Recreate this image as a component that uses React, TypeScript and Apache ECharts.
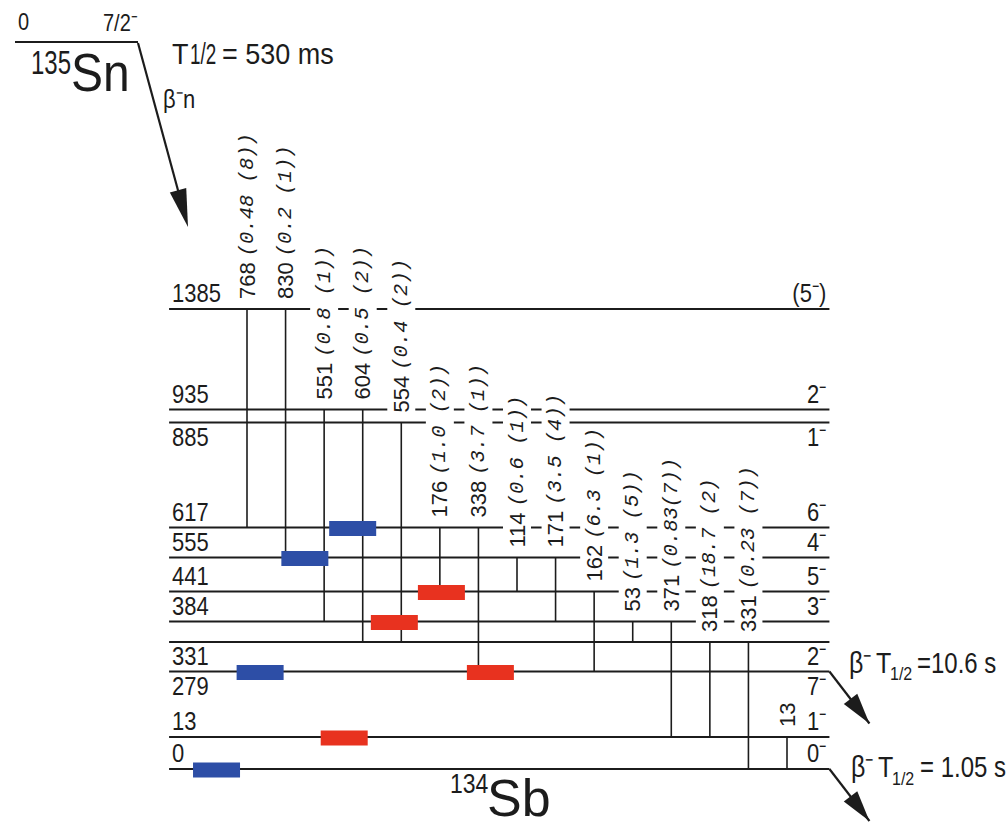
import React, { useEffect, useRef } from "react";
import * as echarts from "echarts";

// ---------------- data ----------------
// levels of 134Sb (keV), spins, and schematic drawing height (scheme is not to scale)
const levelEnergies = [1385, 935, 885, 617, 555, 441, 384, 331, 279, 13, 0];
const levelSpins = ["(5⁻)", "2⁻", "1⁻", "6⁻", "4⁻", "5⁻", "3⁻", "2⁻", "7⁻", "1⁻", "0⁻"];
const levelHeights = [460, 359.5, 346.5, 241.5, 211.5, 177.5, 147.5, 127, 97.5, 32, 0];
const levelLabelBelow = [false, false, true, false, false, false, false, true, true, false, false];
const levelBetaDecay = [false, false, false, false, false, false, false, false, true, false, true];

// gamma transitions: energy, intensity, initial and final level, column in the scheme
const gammaEnergies = [768, 830, 551, 604, 554, 176, 338, 114, 171, 162, 53, 371, 318, 331, 13];
const gammaIntensities = [
  "(0.48 (8))", "(0.2 (1))", "(0.8 (1))", "(0.5 (2))", "(0.4 (2))",
  "(1.0 (2))", "(3.7 (1))", "(0.6 (1))", "(3.5 (4))", "(6.3 (1))",
  "(1.3 (5))", "(0.83(7))", "(18.7 (2)", "(0.23 (7))", "",
];
const gammaFromLevels = [1385, 1385, 935, 935, 885, 617, 617, 555, 555, 441, 384, 384, 331, 331, 13];
const gammaToLevels = [617, 555, 384, 331, 331, 441, 279, 441, 384, 279, 331, 13, 13, 0, 0];
const gammaColumns = [0, 1, 2, 3, 4, 5, 6, 7, 8, 9, 10, 11, 12, 13, 14];

// coloured level markers (level, horizontal position in column units)
const blueMarkLevels = [617, 555, 279, 0];
const blueMarkColumns = [2.74, 1.5, 0.34, -0.79];
const redMarkLevels = [441, 384, 279, 13];
const redMarkColumns = [5.04, 3.82, 6.31, 2.52];

// ---------------- styles ----------------
const INK = "#1c1c1c";
const BLUE = "#2d4ea6";
const RED = "#e8321f";
const SANS = '"Liberation Sans", Arial, Helvetica, sans-serif';
const MONO = '"Liberation Mono", "DejaVu Sans Mono", monospace';
const LEVEL_LEFT = -2.02;
const LEVEL_RIGHT = 15.1;

const heightOf = (e: number) => levelHeights[levelEnergies.indexOf(e)];

function arrowHead(x1: number, y1: number, x2: number, y2: number, len: number, half: number) {
  const dx = x2 - x1, dy = y2 - y1;
  const L = Math.hypot(dx, dy);
  const ux = dx / L, uy = dy / L;
  const bx = x2 - ux * len, by = y2 - uy * len;
  return [[x2, y2], [bx - uy * half, by + ux * half], [bx + uy * half, by - ux * half]];
}

function txt(text: string, x: number, y: number, fs: number, align: string, vAlign: string, sy = 1, sx = 1, extra: any = {}) {
  return {
    type: "text",
    x, y, scaleX: sx, scaleY: sy,
    style: {
      text, x: 0, y: 0, fill: INK,
      font: `${fs}px ${SANS}`,
      align, verticalAlign: vAlign, textAlign: align, textVerticalAlign: vAlign,
      ...extra,
    },
  };
}
// text placed by its baseline (left aligned)
function btxt(text: string, x: number, baseline: number, fs: number, sy = 1, sx = 1) {
  return { ...txt(text, x, baseline + 0.153 * fs * sy, fs, "left", "bottom", sy, sx), z: 10 };
}

function buildOption() {
  const levelSeries = {
    type: "custom",
    coordinateSystem: "cartesian2d",
    silent: true,
    z: 2,
    data: levelHeights.map((h) => [LEVEL_LEFT, h]),
    renderItem: (params: any, api: any) => {
      const i = params.dataIndex;
      const h = api.value(1);
      const p0 = api.coord([LEVEL_LEFT, h]);
      const p1 = api.coord([LEVEL_RIGHT, h]);
      const children: any[] = [
        { type: "line", shape: { x1: p0[0], y1: p0[1], x2: p1[0], y2: p1[1] }, style: { stroke: INK, lineWidth: 2 } },
      ];
      const below = levelLabelBelow[i];
      const ty = below ? p0[1] + 1 : p0[1] - 3;
      const va = below ? "top" : "bottom";
      children.push(txt(String(levelEnergies[i]), p0[0] + 3, ty, 22, "left", va, 1.2));
      children.push(txt(levelSpins[i], p1[0] - 3, ty, 22, "right", va, 1.2));
      if (levelBetaDecay[i]) {
        const tx = p1[0] + 40, tyy = p1[1] + 52;
        children.push({ type: "line", shape: { x1: p1[0], y1: p1[1], x2: tx, y2: tyy }, style: { stroke: INK, lineWidth: 2.2 } });
        children.push({ type: "polygon", shape: { points: arrowHead(p1[0], p1[1], tx, tyy, 31, 8.5) }, style: { fill: INK } });
      }
      return { type: "group", children };
    },
  };

  const gammaLabelSeries = {
    type: "custom",
    coordinateSystem: "cartesian2d",
    silent: true,
    z: 3,
    data: gammaColumns.map((c, i) => [c, heightOf(gammaFromLevels[i])]),
    renderItem: (params: any, api: any) => {
      const i = params.dataIndex;
      const p = api.coord([api.value(0), api.value(1)]);
      const inten = gammaIntensities[i];
      const text = inten ? `{n|${gammaEnergies[i]}} {i|${inten}}` : `{n|${gammaEnergies[i]}}`;
      return {
        type: "text",
        x: p[0], y: p[1] - 8, rotation: Math.PI / 2,
        style: {
          text, x: 0, y: 0, fill: INK,
          font: `22px ${SANS}`,
          align: "left", verticalAlign: "middle", textAlign: "left", textVerticalAlign: "middle",
          backgroundColor: "#ffffff",
          padding: [3, 2, 3, 2],
          rich: {
            n: { fontSize: 22, fontFamily: SANS, fill: INK },
            i: { fontSize: 20.5, fontFamily: MONO, fontStyle: "italic", fill: INK },
          },
        },
      };
    },
  };

  const gammaLineSeries = {
    type: "custom",
    coordinateSystem: "cartesian2d",
    silent: true,
    z: 4,
    data: gammaColumns.map((c, i) => [c, heightOf(gammaFromLevels[i]), heightOf(gammaToLevels[i])]),
    renderItem: (params: any, api: any) => {
      const a = api.coord([api.value(0), api.value(1)]);
      const b = api.coord([api.value(0), api.value(2)]);
      return { type: "line", shape: { x1: a[0], y1: a[1], x2: b[0], y2: b[1] }, style: { stroke: INK, lineWidth: 1.6 } };
    },
  };

  const markSeries = (levels: number[], cols: number[], color: string) => ({
    type: "custom",
    coordinateSystem: "cartesian2d",
    silent: true,
    z: 5,
    data: cols.map((c, i) => [c, heightOf(levels[i])]),
    renderItem: (params: any, api: any) => {
      const p = api.coord([api.value(0), api.value(1)]);
      return { type: "rect", shape: { x: p[0] - 23.5, y: p[1] + 1 - 7.5, width: 47, height: 15 }, style: { fill: color } };
    },
  });

  const snArrow = arrowHead(138, 43, 188, 227, 38, 8.5);

  const graphic: any[] = [
    btxt("0", 18, 30, 20, 1.2),
    btxt("7/2⁻", 103, 31, 20, 1.2),
    { type: "line", z: 10, shape: { x1: 15, y1: 42, x2: 138, y2: 42 }, style: { stroke: INK, lineWidth: 2 } },
    btxt("135", 31, 74, 24, 1.4),
    btxt("Sn", 71, 91, 48, 1.1),
    btxt("T", 172, 64, 27, 1.1),
    btxt("1/2", 190, 64, 27, 1.1, 0.7),
    btxt("= 530 ms", 222, 64, 27, 1.1),
    btxt("β⁻n", 163, 108, 22, 1.15),
    { type: "line", z: 10, shape: { x1: 138, y1: 43, x2: 182, y2: 205 }, style: { stroke: INK, lineWidth: 2.2 } },
    { type: "polygon", z: 10, shape: { points: snArrow }, style: { fill: INK } },
    btxt("β⁻", 849, 673, 25, 1.15),
    btxt("T", 876, 673, 25, 1.15),
    btxt("1/2", 890, 680, 16, 1.1),
    btxt("=10.6 s", 917, 673, 24, 1.2),
    btxt("β⁻", 851, 777, 25, 1.15),
    btxt("T", 878, 777, 25, 1.15),
    btxt("1/2", 892, 785, 16, 1.1),
    btxt("= 1.05 s", 920, 777, 24, 1.2),
    btxt("134", 450, 793, 23, 1.2),
    btxt("Sb", 487, 816, 52, 1.0),
  ];

  return {
    animation: false,
    backgroundColor: "#ffffff",
    grid: { left: 247, right: 219, top: 0, bottom: 57 },
    xAxis: { type: "value", min: 0, max: 14, show: false },
    yAxis: { type: "value", min: 0, max: 769, show: false },
    series: [
      levelSeries,
      gammaLabelSeries,
      gammaLineSeries,
      markSeries(blueMarkLevels, blueMarkColumns, BLUE),
      markSeries(redMarkLevels, redMarkColumns, RED),
    ],
    graphic,
  };
}

export default function App() {
  const ref = useRef<HTMLDivElement>(null);
  useEffect(() => {
    const chart = echarts.init(ref.current as HTMLDivElement, null, { renderer: "svg" });
    chart.setOption(buildOption() as any);
    return () => chart.dispose();
  }, []);
  return (
    <div
      ref={ref}
      style={{ position: "fixed", left: 0, top: 0, width: 1006, height: 826, background: "#fff" }}
    />
  );
}
